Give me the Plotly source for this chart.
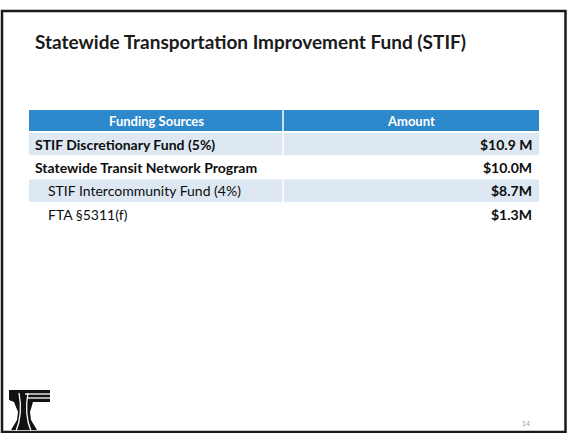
import plotly.graph_objects as go

W, H = 568, 433

title = "Statewide Transportation Improvement Fund (STIF)"
headers = ["Funding Sources", "Amount"]
sources = ["STIF Discretionary Fund (5%)", "Statewide Transit Network Program",
           "STIF Intercommunity Fund (4%)", "FTA §5311(f)"]
amounts = ["$10.9 M", "$10.0M", "$8.7M", "$1.3M"]
indent = [0, 0, 1, 1]
bold_source = [True, True, False, False]
page_number = "14"

def px(x):
    return x / W

def py(y):
    return 1 - y / H

# table geometry (pixels)
TX0, TX1, TXMID = 29, 539, 283
HEAD_Y0, HEAD_Y1 = 110, 131
ROW_Y0, ROW_H = 132.5, 23.3
HEADER_BLUE = "#2d89cc"
SHADE = "#dde8f3"
FONT = "Lato, Open Sans, sans-serif"

shapes = []
annotations = []

# slide border
shapes.append(dict(type="rect", xref="paper", yref="paper", x0=px(2), x1=px(565.5),
                   y0=py(432), y1=py(11), line=dict(color="#1a1a1a", width=2.5)))

# header row
shapes.append(dict(type="rect", xref="paper", yref="paper", x0=px(TX0), x1=px(TX1),
                   y0=py(HEAD_Y1), y1=py(HEAD_Y0), fillcolor=HEADER_BLUE, line=dict(width=0),
                   layer="below"))
for i, h in enumerate(headers):
    cx = (TX0 + TXMID) / 2 if i == 0 else (TXMID + TX1) / 2
    annotations.append(dict(text=f"<b>{h}</b>", x=px(cx), y=py((HEAD_Y0 + HEAD_Y1) / 2),
                            xref="paper", yref="paper", xanchor="center", yanchor="middle",
                            showarrow=False, font=dict(family=FONT, size=13, color="#ffffff")))

# body rows
for r, (s, a, ind, b) in enumerate(zip(sources, amounts, indent, bold_source)):
    y0 = ROW_Y0 + r * ROW_H
    y1 = y0 + ROW_H
    yc = (y0 + y1) / 2
    if r % 2 == 0:
        shapes.append(dict(type="rect", xref="paper", yref="paper", x0=px(TX0), x1=px(TX1),
                           y0=py(y1 - 0.5), y1=py(y0 + 0.5), fillcolor=SHADE,
                           line=dict(width=0), layer="below"))
    txt = f"<b>{s}</b>" if b else s
    annotations.append(dict(text=txt, x=px(33 + 13 * ind), y=py(yc), xref="paper", yref="paper",
                            xanchor="left", yanchor="middle", showarrow=False,
                            font=dict(family=FONT, size=14, color="#0d0d0d")))
    annotations.append(dict(text=f"<b>{a}</b>", x=px(534), y=py(yc), xref="paper", yref="paper",
                            xanchor="right", yanchor="middle", showarrow=False,
                            font=dict(family=FONT, size=14, color="#0d0d0d")))

# column divider (white)
shapes.append(dict(type="line", xref="paper", yref="paper", x0=px(TXMID), x1=px(TXMID),
                   y0=py(ROW_Y0 + len(sources) * ROW_H), y1=py(HEAD_Y0),
                   line=dict(color="#ffffff", width=1.5), layer="below"))

# logo (stylized T)
def poly(pts):
    return "M " + " L ".join(f"{px(x)},{py(y)}" for x, y in pts) + " Z"

shapes.append(dict(type="path", xref="paper", yref="paper",
                   path=poly([(9, 390), (50, 390), (50, 402), (33, 402), (30, 412),
                              (31, 420), (37, 430), (11, 430), (17, 420), (18, 412),
                              (14, 402), (9, 400)]),
                   fillcolor="#111111", line=dict(width=0)))
# white stripes
for (x0, y0, x1, y1) in [(25, 394, 51, 394), (27, 398, 51, 398)]:
    shapes.append(dict(type="line", xref="paper", yref="paper",
                       x0=px(x0), y0=py(y0), x1=px(x1), y1=py(y1),
                       line=dict(color="#ffffff", width=1.3)))
for (xa, xc, xb) in [(19, 23, 16), (28, 24, 31)]:
    shapes.append(dict(type="path", xref="paper", yref="paper",
                       path=f"M {px(xa)},{py(393)} Q {px(xc)},{py(414)} {px(xb)},{py(431)}",
                       line=dict(color="#ffffff", width=1.3)))

# title and page number
annotations.append(dict(text=f"<b>{title}</b>", x=px(33), y=py(42), xref="paper", yref="paper",
                        xanchor="left", yanchor="middle", showarrow=False,
                        font=dict(family="Lato, sans-serif", size=19, color="#1a1a1a")))
annotations.append(dict(text=page_number, x=px(526), y=py(423), xref="paper", yref="paper",
                        xanchor="center", yanchor="middle", showarrow=False,
                        font=dict(family="Liberation Sans, sans-serif", size=7, color="#9a9a9a")))

fig = go.Figure()
fig.update_layout(
    width=W, height=H,
    margin=dict(l=0, r=0, t=0, b=0),
    paper_bgcolor="#ffffff",
    plot_bgcolor="#ffffff",
    xaxis=dict(visible=False, range=[0, 1]),
    yaxis=dict(visible=False, range=[0, 1]),
    shapes=shapes,
    annotations=annotations,
    showlegend=False,
)

fig.write_html("out.html", config={"displayModeBar": False},
               post_script="document.body.style.margin='0';document.body.style.overflow='hidden';")
